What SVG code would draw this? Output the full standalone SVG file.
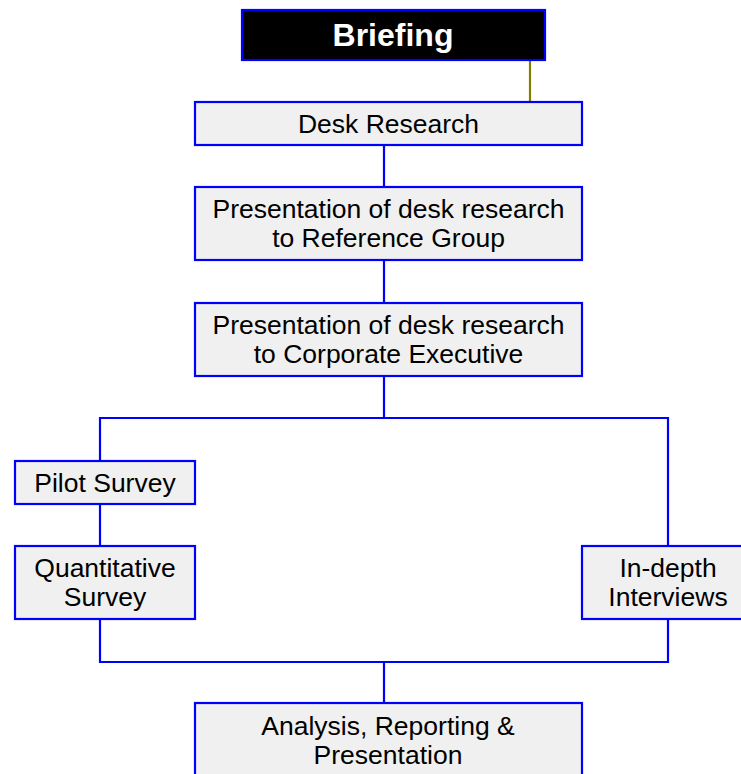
<svg xmlns="http://www.w3.org/2000/svg" width="741" height="774" viewBox="0 0 741 774">
<style>
.box{fill:#f0f0f0;stroke:#0000ff;stroke-width:2.2}
.t{font-family:"Liberation Sans",Arial,sans-serif;font-size:26.5px;fill:#000;text-anchor:middle}
.c{fill:none;stroke:#0000ff;stroke-width:2.2}
</style>
<rect width="741" height="774" fill="#fff"/>
<g id="connectors">
<line x1="530" y1="60" x2="530" y2="102" stroke="#808000" stroke-width="2.2"/>
<path class="c" d="M384 145V187M384 260V303M384 376V418M100 461V418H668V546M100 504V546M100 619V662H668V619M384 662V703"/>
</g>
<g id="briefing">
<rect x="242" y="10" width="303" height="50" fill="#000" stroke="#0000ff" stroke-width="2.2"/>
<text x="393" y="46" class="t" style="font-weight:bold;font-size:32px;fill:#fff">Briefing</text>
</g>
<g id="desk"><rect class="box" x="195" y="102" width="387" height="43"/><text class="t" x="388.5" y="133">Desk Research</text></g>
<g id="pres1"><rect class="box" x="195" y="187" width="387" height="73"/><text class="t" x="388.5" y="217.5">Presentation of desk research</text><text class="t" x="388.5" y="247">to Reference Group</text></g>
<g id="pres2"><rect class="box" x="195" y="303" width="387" height="73"/><text class="t" x="388.5" y="333.5">Presentation of desk research</text><text class="t" x="388.5" y="363">to Corporate Executive</text></g>
<g id="pilot"><rect class="box" x="15" y="461" width="180" height="43"/><text class="t" x="105" y="492">Pilot Survey</text></g>
<g id="quant"><rect class="box" x="15" y="546" width="180" height="73"/><text class="t" x="105" y="577">Quantitative</text><text class="t" x="105" y="606">Survey</text></g>
<g id="indepth"><rect class="box" x="582" y="546" width="180" height="73"/><text class="t" x="668" y="577">In-depth</text><text class="t" x="668" y="606">Interviews</text></g>
<g id="analysis"><rect class="box" x="195" y="703" width="387" height="90"/><text class="t" x="388" y="735">Analysis, Reporting &amp;</text><text class="t" x="388" y="764">Presentation</text></g>
</svg>
